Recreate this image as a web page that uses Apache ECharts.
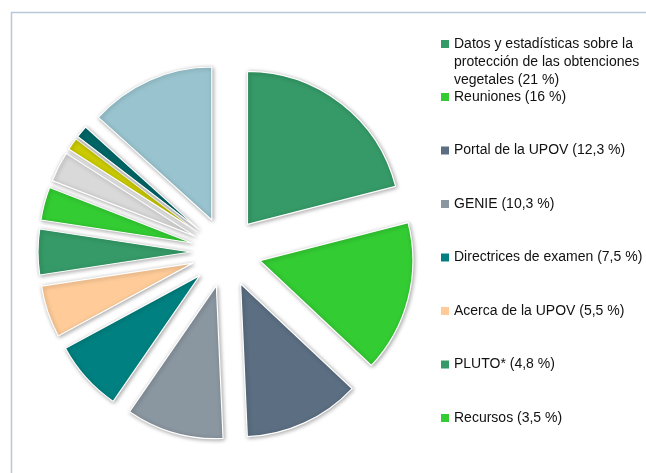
<!DOCTYPE html>
<html><head><meta charset="utf-8">
<script src="https://cdn.jsdelivr.net/npm/echarts@6/dist/echarts.min.js"></script>
<style>html,body{margin:0;padding:0;background:#fff}#c{width:646px;height:473px}</style>
</head><body><div id="c"></div>
<script>
const categories = [
  "Datos y estadísticas sobre la protección de las obtenciones vegetales (21 %)",
  "Reuniones (16 %)",
  "Portal de la UPOV (12,3 %)",
  "GENIE (10,3 %)",
  "Directrices de examen (7,5 %)",
  "Acerca de la UPOV (5,5 %)",
  "PLUTO* (4,8 %)",
  "Recursos (3,5 %)",
  "Otros A (3,2 %)",
  "Otros B (1,3 %)",
  "Otros C (1,3 %)",
  "Otros D (13,3 %)"
];
const values = [21, 16, 12.3, 10.3, 7.5, 5.5, 4.8, 3.5, 3.2, 1.3, 1.3, 13.3];
const colors = ["#359A67","#33CC33","#5B6E82","#8A96A0","#008080","#FFCC99","#359A67","#33CC33","#D9D9D9","#CCCC00","#006666","#99C4CF"];
const firstLegend = [categories[0]];
const otherLegend = categories.slice(1, 8);

const chart = echarts.init(document.getElementById('c'), null, {renderer:'canvas'});
const font = "'Liberation Sans Narrow','Arial Narrow','Liberation Sans',Arial,sans-serif";
const legItem = {borderWidth:0, shadowBlur:0, shadowOffsetX:0, shadowOffsetY:0};
chart.setOption({
  animation:false,
  color: colors,
  graphic:[{type:'rect', left:9, top:10, shape:{width:700, height:500}, style:{fill:'none', stroke:'#B8C8D8', lineWidth:1.5}, z:-1}],
  legend:[
    {data:firstLegend, orient:'vertical', left:441, top:-1, padding:0, itemWidth:8, itemHeight:8, icon:'rect', selectedMode:false, itemStyle:legItem,
     formatter:()=> '\n\nDatos y estadísticas sobre la\nprotección de las obtenciones\nvegetales (21 %)',
     textStyle:{fontFamily:font, fontSize:14, color:'#111', lineHeight:18}},
    {data:otherLegend, orient:'vertical', left:441, top:88, padding:0, itemGap:35.5, itemWidth:8, itemHeight:8, icon:'rect', selectedMode:false, itemStyle:legItem,
     textStyle:{fontFamily:font, fontSize:14, color:'#111', lineHeight:18}}
  ],
  series:[{
    type:'pie', center:[226,252], radius:[0,153], startAngle:90, clockwise:true,
    selectedMode:'multiple', selectedOffset:35,
    label:{show:false}, labelLine:{show:false},
    emphasis:{disabled:true},
    itemStyle:{borderColor:'#fff', borderWidth:1.2, shadowBlur:4, shadowColor:'rgba(0,0,0,0.35)', shadowOffsetX:1, shadowOffsetY:1},
    data: categories.map((n,i)=>({name:n, value:values[i], selected:true}))
  }]
});
</script></body></html>
